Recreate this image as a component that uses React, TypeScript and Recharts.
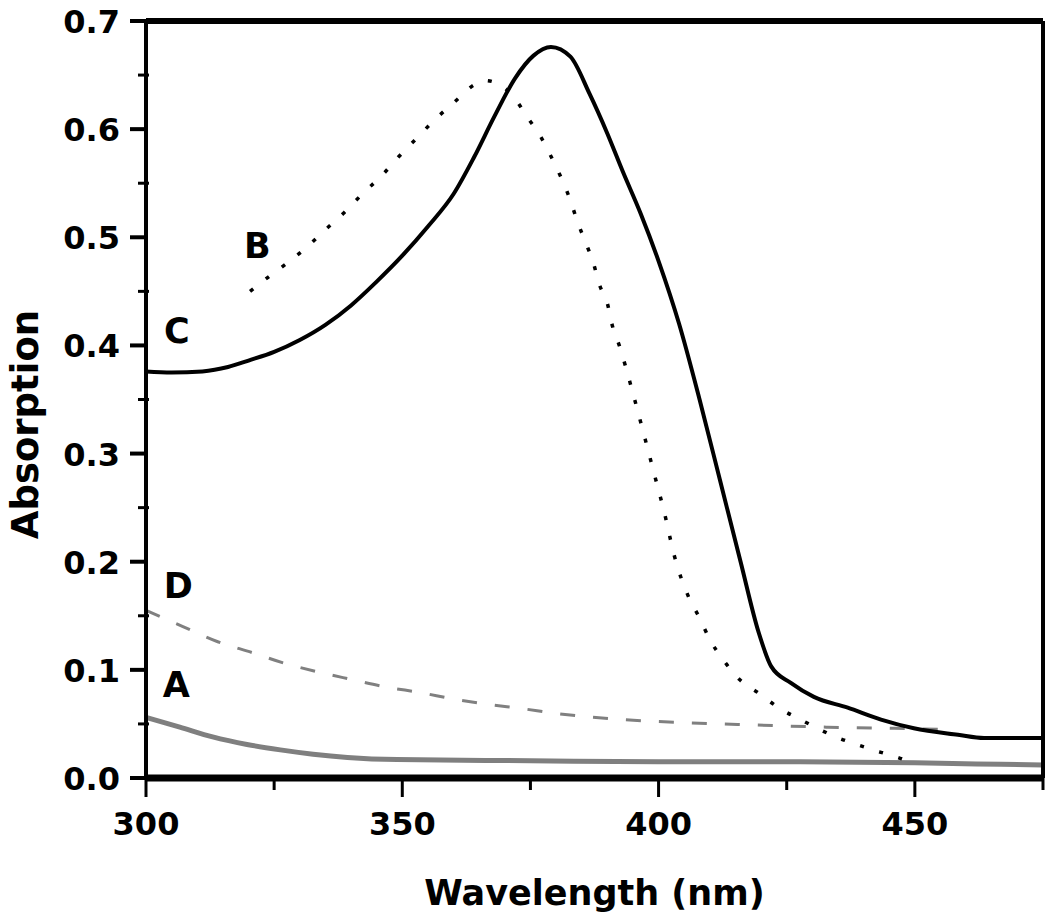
import React from 'react';
import {
  LineChart,
  Line,
  XAxis,
  YAxis,
  ReferenceDot,
} from 'recharts';

const FONT = '"DejaVu Sans", Verdana, sans-serif';

// curve C (solid black)
const cWavelength = [300, 305, 311, 316, 320, 325, 330, 335, 340, 345, 350, 355, 360, 364, 368, 372, 375.6, 379, 382.8, 386.5, 390, 393, 396.5, 400, 404, 408, 412, 416, 419.5, 422, 425.8, 430.3, 436.9, 443.4, 449.8, 458.4, 463.5, 475];
const cAbsorption = [0.376, 0.375, 0.376, 0.38, 0.386, 0.394, 0.405, 0.419, 0.437, 0.459, 0.483, 0.51, 0.54, 0.574, 0.612, 0.647, 0.668, 0.676, 0.667, 0.633, 0.596, 0.561, 0.522, 0.478, 0.42, 0.35, 0.275, 0.2, 0.135, 0.103, 0.088, 0.075, 0.065, 0.054, 0.046, 0.04, 0.037, 0.037];

// curve B (dotted black)
const bWavelength = [320.3, 323.8, 327.5, 331.4, 335, 338.7, 342.4, 346, 349.2, 353.1, 356.4, 360.4, 364, 366, 368.2, 371.7, 374.4, 377, 379.1, 381, 382.8, 384.2, 385.7, 387.3, 388.4, 390, 391, 392.4, 393.6, 394.7, 396.9, 399, 401.2, 403.1, 405.9, 408, 410, 412.5, 415.8, 419.7, 423.4, 427.7, 435.1, 439.3, 443.2, 446.7, 450];
const bAbsorption = [0.45, 0.463, 0.476, 0.491, 0.507, 0.523, 0.541, 0.557, 0.574, 0.593, 0.609, 0.626, 0.641, 0.645, 0.643, 0.63, 0.611, 0.593, 0.574, 0.555, 0.534, 0.514, 0.496, 0.476, 0.457, 0.439, 0.418, 0.399, 0.38, 0.361, 0.322, 0.284, 0.244, 0.205, 0.167, 0.148, 0.128, 0.11, 0.091, 0.078, 0.065, 0.054, 0.037, 0.03, 0.024, 0.019, 0.013];

// curve D (dashed grey)
const dWavelength = [300, 307.2, 314, 320.7, 327.1, 333.6, 340.2, 347, 353.5, 360, 366.8, 373.6, 379.5, 393, 406, 419, 433, 446, 455];
const dAbsorption = [0.155, 0.14, 0.126, 0.116, 0.106, 0.098, 0.091, 0.084, 0.079, 0.073, 0.068, 0.064, 0.06, 0.054, 0.051, 0.049, 0.047, 0.046, 0.045];

// curve A (solid grey)
const aWavelength = [300, 306.6, 313, 319.7, 326.2, 332.6, 339.3, 349, 375, 400, 425, 450, 462, 475];
const aAbsorption = [0.056, 0.047, 0.038, 0.031, 0.026, 0.022, 0.019, 0.017, 0.016, 0.015, 0.015, 0.014, 0.013, 0.012];

// curve letters, placed in data units
const curveLabels = ['A', 'B', 'C', 'D'];
const labelWavelength = [305.9, 321.7, 306, 306.3];
const labelAbsorption = [0.086, 0.492, 0.413, 0.178];

const xTicks = [300, 325, 350, 375, 400, 425, 450, 475];
const yTicks = [0, 0.05, 0.1, 0.15, 0.2, 0.25, 0.3, 0.35, 0.4, 0.45, 0.5, 0.55, 0.6, 0.65, 0.7];

const zip = (xs: number[], ys: number[]) => xs.map((x, i) => ({ x, y: ys[i] }));

const seriesC = zip(cWavelength, cAbsorption);
const seriesB = zip(bWavelength, bAbsorption);
const seriesD = zip(dWavelength, dAbsorption);
const seriesA = zip(aWavelength, aAbsorption);

const XTick = (props: any) => {
  const { x, y, payload } = props;
  const major = payload.value % 50 === 0;
  return (
    <g>
      <line x1={x} y1={y} x2={x} y2={y + (major ? 19 : 12)} stroke="#000" strokeWidth={3} />
      {major && (
        <text x={x} y={y + 57} textAnchor="middle" fontFamily={FONT} fontWeight="bold" fontSize={32} fill="#000">
          {payload.value}
        </text>
      )}
    </g>
  );
};

const YTick = (props: any) => {
  const { x, y, payload } = props;
  const major = Math.round(payload.value * 100) % 10 === 0;
  return (
    <g>
      <line x1={major ? x - 16 : x - 8} y1={y} x2={major ? x : x + 3} y2={y} stroke="#000" strokeWidth={major ? 4 : 3} />
      {major && (
        <text x={x - 26} y={y + 12} textAnchor="end" fontFamily={FONT} fontWeight="bold" fontSize={32} fill="#000">
          {payload.value.toFixed(1)}
        </text>
      )}
    </g>
  );
};

const XTitle = (props: any) => {
  const { viewBox } = props;
  return (
    <text x={viewBox.x + viewBox.width / 2} y={viewBox.y + 127} textAnchor="middle" fontFamily={FONT} fontWeight="bold" fontSize={35} fill="#000">
      Wavelength (nm)
    </text>
  );
};

const YTitle = (props: any) => {
  const { viewBox } = props;
  const cx = viewBox.x + viewBox.width - 121;
  const cy = viewBox.y + viewBox.height / 2 + 25;
  return (
    <text x={cx} y={cy} transform={`rotate(-90, ${cx}, ${cy})`} textAnchor="middle" dominantBaseline="central" fontFamily={FONT} fontWeight="bold" fontSize={37} fill="#000">
      Absorption
    </text>
  );
};

const App = () => {
  return (
    <div style={{ position: 'absolute', left: 0, top: 0, background: '#fff' }}>
      <LineChart width={1050} height={919} margin={{ top: 20, right: 0, bottom: 81, left: 86 }}>
        <XAxis
          type="number"
          dataKey="x"
          domain={[300, 475]}
          ticks={xTicks}
          interval={0}
          allowDataOverflow
          height={60}
          tickSize={0}
          tickMargin={0}
          tickLine={false}
          axisLine={{ stroke: '#000', strokeWidth: 7 }}
          tick={<XTick />}
          label={<XTitle />}
        />
        <XAxis
          xAxisId="top"
          orientation="top"
          type="number"
          domain={[300, 475]}
          height={1}
          tick={false}
          tickLine={false}
          axisLine={{ stroke: '#000', strokeWidth: 6 }}
        />
        <YAxis
          type="number"
          domain={[0, 0.7]}
          ticks={yTicks}
          interval={0}
          allowDataOverflow
          width={60}
          tickSize={0}
          tickMargin={0}
          tickLine={false}
          axisLine={{ stroke: '#000', strokeWidth: 4 }}
          tick={<YTick />}
          label={<YTitle />}
        />
        <YAxis
          yAxisId="right"
          orientation="right"
          type="number"
          domain={[0, 0.7]}
          ticks={yTicks}
          interval={0}
          width={7}
          tick={false}
          tickSize={7}
          tickLine={{ stroke: '#000', strokeWidth: 2 }}
          axisLine={{ stroke: '#000', strokeWidth: 4 }}
        />
        <Line data={seriesA} dataKey="y" type="monotone" stroke="#7f7f7f" strokeWidth={5} dot={false} activeDot={false} isAnimationActive={false} />
        <Line data={seriesD} dataKey="y" type="monotone" stroke="#808080" strokeWidth={3} strokeDasharray="15 18" dot={false} activeDot={false} isAnimationActive={false} />
        <Line data={seriesB} dataKey="y" type="monotone" stroke="#000" strokeWidth={3.5} strokeDasharray="4 16" dot={false} activeDot={false} isAnimationActive={false} />
        <Line data={seriesC} dataKey="y" type="monotone" stroke="#000" strokeWidth={4} dot={false} activeDot={false} isAnimationActive={false} />
        {curveLabels.map((name, i) => (
          <ReferenceDot
            key={name}
            x={labelWavelength[i]}
            y={labelAbsorption[i]}
            r={0}
            shape={(p: any) => (
              <text x={p.cx} y={p.cy} textAnchor="middle" dominantBaseline="central" fontFamily={FONT} fontWeight="bold" fontSize={35} fill="#000">
                {name}
              </text>
            )}
          />
        ))}
      </LineChart>
    </div>
  );
};

export default App;
